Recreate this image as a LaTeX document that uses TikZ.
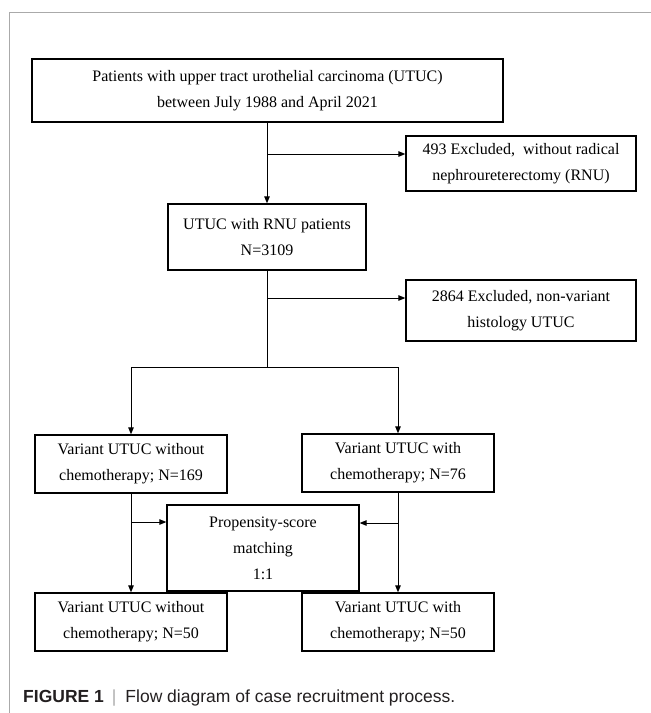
\documentclass[tikz,border=0pt]{standalone}
\usepackage{fontspec}
\setmainfont{Liberation Serif}
\setsansfont{Liberation Sans}
\usetikzlibrary{arrows.meta, positioning}
\definecolor{framegray}{RGB}{170, 170, 170}
\definecolor{captext}{RGB}{35, 31, 32}

\begin{document}
\begin{tikzpicture}[
    x=1pt, y=-1pt,
    >={Triangle[length=7pt, width=5.5pt]},
    stepbox/.style={rectangle, draw, line width=1.3pt, align=center, inner sep=2pt,
        font=\fontsize{16}{26}\selectfont},
    arrow/.style={->, line width=1pt},
    link/.style={line width=1pt}
]
\useasboundingbox (0,0) rectangle (651,713);

% === Marco de la figura ===
\draw[framegray, line width=1pt] (9,713) -- (9,12) -- (651,12);

% === Cajas ===
\node[stepbox, minimum width=471pt, minimum height=63pt] (patients) at (267.5,90.5)
    {Patients with upper tract urothelial carcinoma (UTUC)\\between July 1988 and April 2021};
\node[stepbox, minimum width=230pt, minimum height=55pt] (exclrnu) at (521,163.5)
    {493 Excluded,~ without radical\\nephroureterectomy (RNU)};
\node[stepbox, minimum width=198pt, minimum height=66pt] (rnu) at (267,237)
    {UTUC with RNU patients\\N=3109};
\node[stepbox, minimum width=230pt, minimum height=61pt] (exclvar) at (521,310.5)
    {2864 Excluded, non-variant\\histology UTUC};
\node[stepbox, minimum width=192pt, minimum height=58pt] (nochemo) at (131,464)
    {Variant UTUC without\\chemotherapy; N=169};
\node[stepbox, minimum width=192pt, minimum height=58pt] (chemo) at (398,463)
    {Variant UTUC with\\chemotherapy; N=76};
\node[stepbox, minimum width=192pt, minimum height=86pt] (psm) at (263,548)
    {Propensity-score\\matching\\1:1};
\node[stepbox, minimum width=192pt, minimum height=58pt] (nochemoM) at (131,622)
    {Variant UTUC without\\chemotherapy; N=50};
\node[stepbox, minimum width=192pt, minimum height=58pt] (chemoM) at (398,622)
    {Variant UTUC with\\chemotherapy; N=50};

% === Puntos de bifurcación ===
\coordinate (b1) at (rnu.north |- 0,154);
\coordinate (b2) at (rnu.south |- 0,298);
\coordinate (split) at (rnu.south |- 0,367);
\coordinate (bl) at (nochemo.south |- 0,522);
\coordinate (br) at (chemo.south |- 0,523);

% === Conectores ===
\draw[arrow] (patients.south -| rnu) -- (rnu.north);
\draw[arrow] (b1) -- (b1 -| exclrnu.west);
\draw[link] (rnu.south) -- (split);
\draw[arrow] (b2) -- (b2 -| exclvar.west);
\draw[link] (split -| nochemo) -- (split -| chemo);
\draw[arrow] (split -| nochemo) -- (nochemo.north);
\draw[arrow] (split -| chemo) -- (chemo.north);
\draw[arrow] (nochemo.south) -- (nochemoM.north);
\draw[arrow] (chemo.south) -- (chemoM.north);
\draw[arrow] (bl) -- (bl -| psm.west);
\draw[arrow] (br) -- (br -| psm.east);

% === Leyenda ===
\node[anchor=base west, inner sep=0pt, text=captext, font=\sffamily\fontsize{17.5}{20}\selectfont] (caption) at (23,702)
    {\textbf{FIGURE 1}\hspace{8pt}{\color{framegray}|}\hspace{9pt}Flow diagram of case recruitment process.};
\end{tikzpicture}
\end{document}
